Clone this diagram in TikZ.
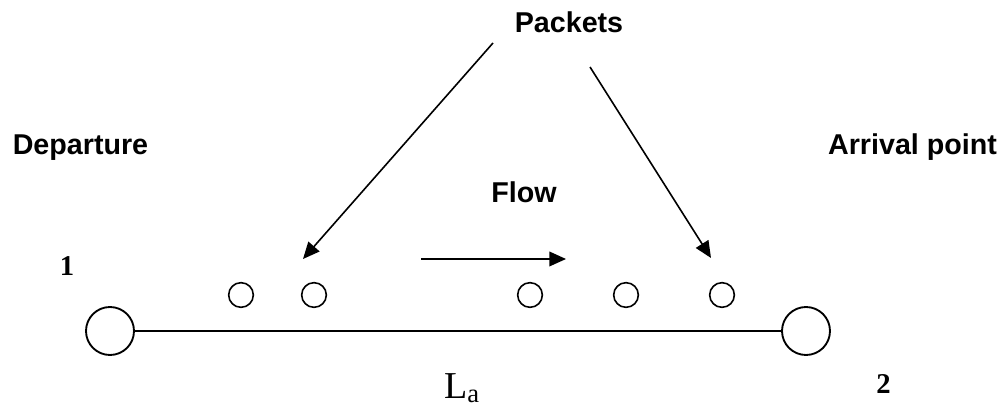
\documentclass[tikz,border=0pt]{standalone}
\usepackage{fontspec}
\setmainfont{Liberation Serif}
\setsansfont{Liberation Sans}
\usetikzlibrary{arrows.meta}
\begin{document}
\begin{tikzpicture}[x=0.75pt,y=-0.75pt,
  lbl/.style={font=\sffamily\bfseries\fontsize{21.5}{24}\selectfont, inner sep=0pt, anchor=base},
  num/.style={font=\bfseries\fontsize{21.5}{24}\selectfont, inner sep=0pt, anchor=base},
  bigc/.style={draw, circle, line width=1.4pt, minimum size=36pt, inner sep=0pt},
  smallc/.style={draw, circle, line width=1.2pt, minimum size=18.5pt, inner sep=0pt},
  arr/.style={line width=1.2pt, -{Triangle[length=12.5pt,width=11pt]}},
  ln/.style={line width=1.4pt}]
\useasboundingbox (0,0) rectangle (1006,409);
\node[lbl] (packets) at (569,33) {Packets};
\node[lbl] (dep) at (80.5,155) {Departure};
\node[lbl] (arr) at (912.5,155) {Arrival point};
\node[lbl] (flow) at (524,203) {Flow};
\node[num] (one) at (67,276) {1};
\node[num] (two) at (883.5,393) {2};
\node[inner sep=0pt, anchor=base west, font=\fontsize{28.5}{30}\selectfont] (la) at (444,398) {L\textsubscript{a}};
\node[bigc] (n1) at (110,331) {};
\node[bigc] (n2) at (806,331) {};
\draw[ln] (n1) -- (n2);
\foreach \x/\n in {241/p1,314/p2,530/p3,626/p4,722/p5}
  \node[smallc] (\n) at (\x,295) {};
\coordinate (a1s) at (493,43);
\coordinate (a1e) at (303,259);
\coordinate (a2s) at (590,67);
\coordinate (a2e) at (711,258);
\coordinate (fs) at (421,259);
\coordinate (fe) at (566,259);
\draw[arr] (a1s) -- (a1e);
\draw[arr] (a2s) -- (a2e);
\draw[arr] (fs) -- (fe);
\end{tikzpicture}
\end{document}
